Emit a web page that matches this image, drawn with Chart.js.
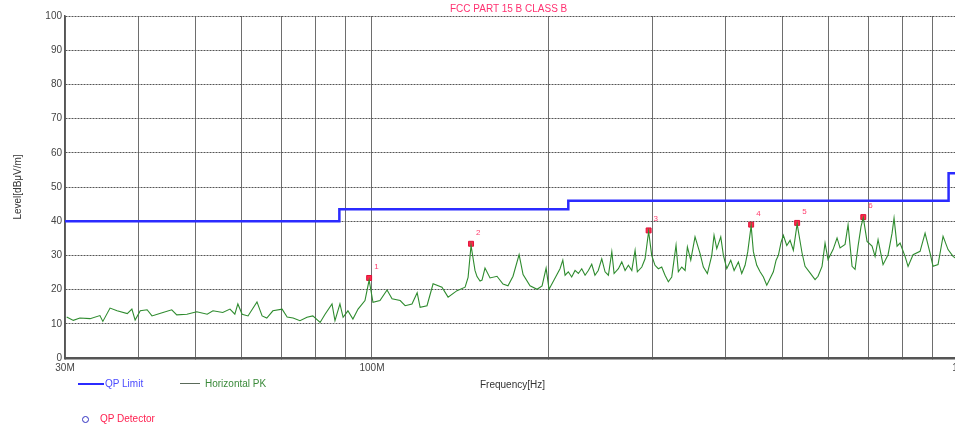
<!DOCTYPE html>
<html>
<head>
<meta charset="utf-8">
<title>FCC PART 15 B CLASS B</title>
<script src="https://cdn.jsdelivr.net/npm/chart.js@4.4.1/dist/chart.umd.min.js"></script>
<style>
    body { margin: 0; background: #fff; overflow: hidden; font-family: Arial, "Liberation Sans", sans-serif; }
    #wrap { position: relative; width: 975px; height: 429px; }
    .txt { position: absolute; font-size: 10px; line-height: 12px; white-space: nowrap; }
    .swatch { position: absolute; height: 2px; }
</style>
</head>
<body>
<div id="wrap">
    <canvas id="myChart" width="975" height="429"></canvas>
    <div class="txt" style="left:450px; top:3px; color:#ff3070;">FCC PART 15 B CLASS B</div>
    <div class="txt" style="left:480px; top:379px; color:#333;">Frequency[Hz]</div>
    <div class="swatch" style="left:78px; top:383px; width:26px; background:#2b2bff;"></div>
    <div class="txt" style="left:105px; top:378px; color:#4a4aff;">QP Limit</div>
    <div class="swatch" style="left:180px; top:383px; width:20px; height:1px; background:#5a6a5a;"></div>
    <div class="txt" style="left:205px; top:378px; color:#3a8a3a;">Horizontal PK</div>
    <div style="position:absolute; left:82px; top:416px; width:5px; height:5px; border:1.5px solid #3030c0; border-radius:50%;"></div>
    <div class="txt" style="left:100px; top:413px; color:#ff2050;">QP Detector</div>
</div>

<script>
//frequencies are in MHz, levels in dBuV/m

//QP limit line (FCC Part 15 class B, 3 m)
var limitFreq = [30, 88, 88, 216, 216, 960, 960, 1000];
var limitLevel = [40, 40, 43.5, 43.5, 46, 46, 54, 54];

//horizontal peak scan
var pkFreq = [30.2, 31.0, 31.8, 33.1, 34.4, 34.8, 35.8, 36.8, 38.3, 39.0,
    39.5, 40.3, 41.4, 42.2, 43.5, 45.6, 46.5, 48.4, 50.3, 52.4,
    53.6, 55.7, 57.3, 58.4, 59.1, 60.1, 61.5, 63.7, 65.0, 66.2,
    67.8, 70.3, 71.7, 73.4, 75.4, 77.5, 79.3, 81.6, 83.2, 85.5,
    86.5, 88.2, 89.3, 91.0, 92.8, 94.7, 97.3, 98.9, 100.4, 103.2,
    106.1, 108.2, 111.7, 113.9, 117.0, 119.4, 120.8, 124.1, 127.1, 131.6,
    134.8, 139.6, 144.1, 145.8, 147.5, 149.8, 151.0, 152.8, 154.0, 155.8,
    158.9, 163.3, 167.2, 170.5, 173.9, 178.1, 180.9, 185.9, 191.1, 194.9,
    198.0, 200.3, 205.1,
    209.1, 211.4, 213.3, 216.0, 218.9, 221.8, 224.7, 227.7, 230.7, 233.7,
    236.8, 239.8, 242.9, 246.3, 249.5, 252.8, 256.2, 258.5, 262.9, 266.4,
    269.9, 273.4, 277.1, 280.7, 283.2, 288.2, 291.9, 296.0, 299.6, 303.5,
    307.5, 311.6, 315.7, 319.8, 324.1, 329.6, 332.6, 337.1, 341.5, 344.6,
    349.2, 355.1, 362.2, 366.9, 372.7, 379.2, 382.6, 386.7, 392.8, 396.9,
    402.2, 408.5, 413.9, 420.9, 426.5, 432.1, 436.7, 442.5, 446.4, 452.4,
    458.3, 464.3, 470.5, 475.3, 482.8, 488.0, 492.4, 497.6, 502.1, 508.9,
    515.5, 522.2,
    530.0, 540.3, 546.7, 557.5, 568.6, 575.3, 584.4, 591.3, 598.3, 610.2,
    619.8, 627.2, 639.6, 647.2, 657.4, 665.2, 673.1, 681.0, 687.0, 697.2,
    711.0, 719.5, 728.0, 742.4, 757.1, 769.1, 775.1, 784.3, 793.6, 809.3,
    818.9, 835.1, 858.4, 875.4, 892.7, 903.2, 921.1, 939.4, 958.0, 977.0,
    1000];
var pkLevel = [12.0, 11.0, 11.7, 11.5, 12.4, 10.7, 14.6, 13.8, 13.0, 14.3,
    11.1, 13.8, 14.1, 12.3, 13.0, 14.1, 12.6, 12.8, 13.5, 12.8,
    13.8, 13.3, 14.3, 12.8, 15.8, 12.8, 12.3, 16.4, 12.3, 11.7,
    13.8, 14.3, 12.0, 11.7, 10.9, 11.9, 12.3, 10.4, 12.8, 15.8,
    10.9, 15.8, 11.9, 13.8, 11.4, 14.3, 16.8, 22.8, 16.3, 16.8,
    19.9, 17.3, 16.8, 15.3, 15.8, 19.1, 14.8, 15.3, 21.7, 20.7,
    17.8, 19.7, 20.7, 23.6, 32.9, 25.6, 23.8, 22.5, 22.8, 26.3,
    23.4, 23.9, 21.6, 21.1, 23.9, 30.2, 24.4, 21.1, 20.1, 21.1,
    26.3, 20.1, 23.4,
    26.1, 28.6, 24.2, 25.2, 23.7, 25.6, 24.7, 26.1, 24.2, 25.6,
    27.4, 24.2, 25.6, 29.0, 25.2, 24.2, 31.1, 24.7, 26.1, 28.1,
    25.6, 27.1, 25.6, 31.5, 25.2, 26.6, 29.0, 37.0, 30.0, 27.1,
    26.1, 26.6, 24.2, 22.3, 23.7, 33.0, 25.2, 26.6, 25.6, 32.5,
    28.6, 35.4, 30.5, 26.6, 24.7, 30.0, 35.9, 32.0, 35.4, 30.0,
    26.1, 28.6, 25.6, 28.1, 24.7, 27.1, 31.1, 38.7, 31.1, 27.1,
    25.2, 23.7, 21.3, 22.8, 25.2, 28.6, 30.0, 33.8, 35.9, 32.9,
    34.4, 31.5,
    39.2, 30.7, 26.8, 24.9, 22.9, 23.9, 26.8, 33.6, 28.8, 31.7,
    35.1, 32.2, 33.2, 39.0, 26.8, 25.9, 32.7, 38.5, 41.0, 34.1,
    32.7, 29.7, 34.6, 27.3, 30.2, 36.5, 40.9, 32.7, 33.6, 29.7,
    26.8, 30.2, 31.2, 36.5, 30.7, 26.8, 27.3, 35.6, 31.7, 29.7,
    28.5];

//QP detector markers 1..6
var qpFreq = [98.9, 147.5, 296.0, 442.5, 530.0, 687.0];
var qpLevel = [23.4, 33.4, 37.3, 39.0, 39.5, 41.2];
var qpNames = ['1', '2', '3', '4', '5', '6'];

//vertical grid positions and which of them get a label
var xGrid = [30, 40, 50, 60, 70, 80, 90, 100, 200, 300, 400, 500, 600, 700, 800, 900, 1000];
var xTickText = { 30: '30M', 100: '100M', 1000: '1G' };

function toPoints(xs, ys) {
    var pts = [];
    for (var i = 0; i < xs.length; i++) {
        pts.push({ x: xs[i], y: ys[i] });
    }
    return pts;
}

//draws the small red numbers next to the QP markers
var markerLabels = {
    id: 'markerLabels',
    afterDatasetsDraw: function(chart) {
        var meta = chart.getDatasetMeta(2);
        var ctx = chart.ctx;
        ctx.save();
        ctx.fillStyle = '#ff4070';
        ctx.font = '8px Arial';
        meta.data.forEach(function(pt, i) {
            ctx.fillText(qpNames[i], pt.x + 5, pt.y - 9);
        });
        ctx.restore();
    }
};

var ctx = document.getElementById('myChart');
var myChart = new Chart(ctx, {
    type: 'line',
    data: {
        datasets: [{
            label: 'QP Limit',
            data: toPoints(limitFreq, limitLevel),
            borderColor: '#2b2bff',
            borderWidth: 2.5,
            pointRadius: 0,
            tension: 0
        }, {
            label: 'Horizontal PK',
            data: toPoints(pkFreq, pkLevel),
            borderColor: '#2e8b2e',
            borderWidth: 1.1,
            pointRadius: 0,
            tension: 0
        }, {
            label: 'QP Detector',
            data: toPoints(qpFreq, qpLevel),
            showLine: false,
            pointStyle: 'rect',
            pointRadius: 3.5,
            backgroundColor: '#ff2a4a',
            borderColor: '#e0103a',
            borderWidth: 1
        }]
    },
    options: {
        responsive: false,
        animation: false,
        layout: { padding: { left: 0, top: 16, right: 16, bottom: 0 } },
        plugins: {
            legend: { display: false },
            tooltip: { enabled: false }
        },
        scales: {
            x: {
                type: 'logarithmic',
                min: 30,
                max: 1000,
                afterBuildTicks: function(axis) {
                    axis.ticks = xGrid.map(function(v) { return { value: v }; });
                },
                afterFit: function(axis) { axis.height = 71; },
                ticks: {
                    autoSkip: false,
                    maxRotation: 0,
                    padding: 4,
                    color: '#444',
                    font: { size: 10, family: 'Arial' },
                    callback: function(value) { return xTickText[value] || ''; }
                },
                grid: { color: '#6e6e6e', lineWidth: 1, tickLength: 0 },
                border: { color: '#555', width: 2.5 }
            },
            y: {
                min: 0,
                max: 100,
                afterFit: function(axis) { axis.width = 65; },
                ticks: {
                    stepSize: 10,
                    padding: 3,
                    color: '#444',
                    font: { size: 10, family: 'Arial' }
                },
                title: {
                    display: true,
                    text: 'Level[dBμV/m]',
                    color: '#333',
                    font: { size: 10, family: 'Arial' },
                    padding: { top: 12, bottom: 0 }
                },
                grid: { color: '#555', lineWidth: 1, tickLength: 0 },
                border: { color: '#555', width: 1.5, dash: [2, 1] }
            }
        }
    },
    plugins: [markerLabels]
});
</script>
</body>
</html>
